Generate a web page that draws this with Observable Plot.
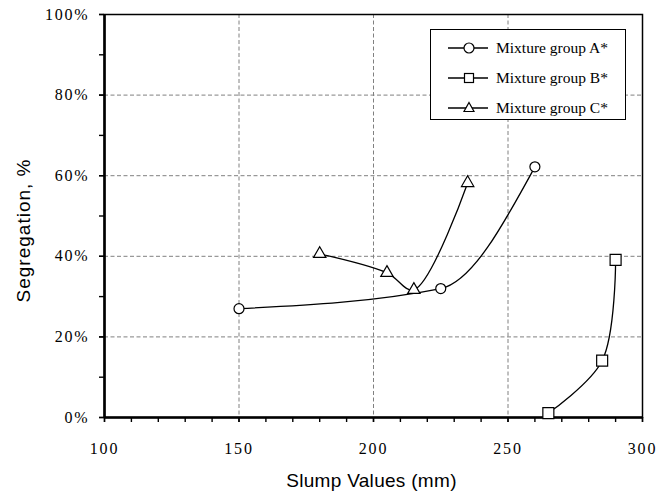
<!DOCTYPE html>
<html><head><meta charset="utf-8">
<script src="https://cdn.jsdelivr.net/npm/d3@7"></script>
<script src="https://cdn.jsdelivr.net/npm/@observablehq/plot@0.6"></script>
<style>
body{margin:0;background:#fff;}
#wrap{position:relative;width:671px;height:493px;}
g[aria-label="x-axis tick label"] text, g[aria-label="y-axis tick label"] text{letter-spacing:1.8px;}
#legend{position:absolute;left:430px;top:29px;width:194px;height:89px;border:1.3px solid #000;background:#fff;font-family:"Liberation Serif",serif;font-size:15.5px;color:#000;}
.row{position:absolute;left:0;height:24px;display:flex;align-items:center;}
.row svg{margin-left:17px;}
.row span{margin-left:8px;white-space:nowrap;}
</style></head>
<body>
<div id="wrap"></div>
<script>
// Data
const seriesNames = ["Mixture group A*", "Mixture group B*", "Mixture group C*"];
const slumpA = [150, 225, 260];
const segA = [27, 32, 62.2];
const slumpB = [265, 285, 290];
const segB = [1.1, 14.1, 39.1];
const slumpC = [180, 205, 215, 235];
const segC = [40.6, 35.9, 31.7, 58.2];
const xMajorTicks = [100, 150, 200, 250, 300];
const xMinorTicks = d3.range(100, 301, 10);
const yMajorTicks = [0, 20, 40, 60, 80, 100];
const yMinorTicks = d3.range(0, 101, 10);
const xTitle = "Slump Values (mm)";
const yTitle = "Segregation, %";

const toRows = (xs, ys) => xs.map((x, i) => ({x, y: ys[i]}));
const A = toRows(slumpA, segA), B = toRows(slumpB, segB), C = toRows(slumpC, segC);

const serif = "Liberation Serif, Times New Roman, serif";
const sans = "Liberation Sans, Arial, sans-serif";
const lineOpts = {x: "x", y: "y", stroke: "#000", strokeWidth: 1.3};
const dotOpts = {x: "x", y: "y", fill: "#fff", stroke: "#000", strokeWidth: 1.2};

const chart = Plot.plot({
  width: 671, height: 493,
  marginLeft: 104, marginTop: 14, marginRight: 29, marginBottom: 76,
  style: {background: "#fff"},
  x: {domain: [100, 300]},
  y: {domain: [0, 100]},
  marks: [
    Plot.gridX([150, 200, 250], {stroke: "#808080", strokeOpacity: 1, strokeWidth: 1, strokeDasharray: "4,2.5"}),
    Plot.gridY([20, 40, 60, 80], {stroke: "#808080", strokeOpacity: 1, strokeWidth: 1, strokeDasharray: "4,2.5"}),
    Plot.frame({stroke: "#000", strokeWidth: 1.5}),
    Plot.ruleX([100], {stroke: "#000", strokeWidth: 2.6}),
    Plot.ruleY([0], {stroke: "#000", strokeWidth: 2.6}),
    Plot.axisX(xMinorTicks, {tickSize: 5, strokeWidth: 1.4, tickFormat: () => "", label: null}),
    Plot.axisX(xMajorTicks, {tickSize: 5, strokeWidth: 1.4, tickPadding: 20, fontFamily: serif, fontSize: 16, fill: "#000", label: null}),
    Plot.axisY(yMinorTicks, {tickSize: 5, strokeWidth: 1.4, tickFormat: () => "", label: null}),
    Plot.axisY(yMajorTicks, {tickSize: 5, strokeWidth: 1.4, tickPadding: 10, tickFormat: d => d + "%", fontFamily: serif, fontSize: 16, fill: "#000", label: null}),
    Plot.line(A, {...lineOpts, curve: "monotone-x"}),
    Plot.line(B, {...lineOpts, curve: "catmull-rom"}),
    Plot.line(C, {...lineOpts, curve: "catmull-rom"}),
    Plot.dot(A, {...dotOpts, symbol: "circle", r: 5}),
    Plot.dot(B, {...dotOpts, symbol: "square", r: 6.2}),
    Plot.dot(C, {...dotOpts, symbol: "triangle", r: 4.6}),
    Plot.text([xTitle], {text: d => d, frameAnchor: "bottom", textAnchor: "middle", lineAnchor: "middle", dx: -2, dy: 63, fontFamily: sans, fontSize: 19, fill: "#000"}),
    Plot.text([yTitle], {text: d => d, frameAnchor: "left", textAnchor: "middle", lineAnchor: "middle", rotate: -90, dx: -80.5, dy: 14.5, fontFamily: sans, fontSize: 19, fill: "#000"})
  ]
});
d3.select(chart).selectAll("text").each(function() {
  if (this.textContent === xTitle) this.style.letterSpacing = "0.3px";
  if (this.textContent === yTitle) this.style.letterSpacing = "1px";
});
const wrap = document.getElementById("wrap");
wrap.appendChild(chart);

// Legend (inside plot area, top right)
const symbols = [
  '<circle cx="21" cy="12" r="5" fill="#fff" stroke="#000" stroke-width="1.2"/>',
  '<rect x="16.5" y="7.5" width="9" height="9" fill="#fff" stroke="#000" stroke-width="1.2"/>',
  '<path d="M21,6.5 L26,15.5 L16,15.5 Z" fill="#fff" stroke="#000" stroke-width="1.2"/>'
];
const legend = document.createElement("div");
legend.id = "legend";
seriesNames.forEach((name, i) => {
  const row = document.createElement("div");
  row.className = "row";
  row.style.top = (5.7 + 30 * i) + "px";
  row.innerHTML = `<svg width="40" height="24"><line x1="0" x2="40" y1="12" y2="12" stroke="#000" stroke-width="1.3"/>${symbols[i]}</svg><span>${name}</span>`;
  legend.appendChild(row);
});
wrap.appendChild(legend);
</script>
</body></html>
